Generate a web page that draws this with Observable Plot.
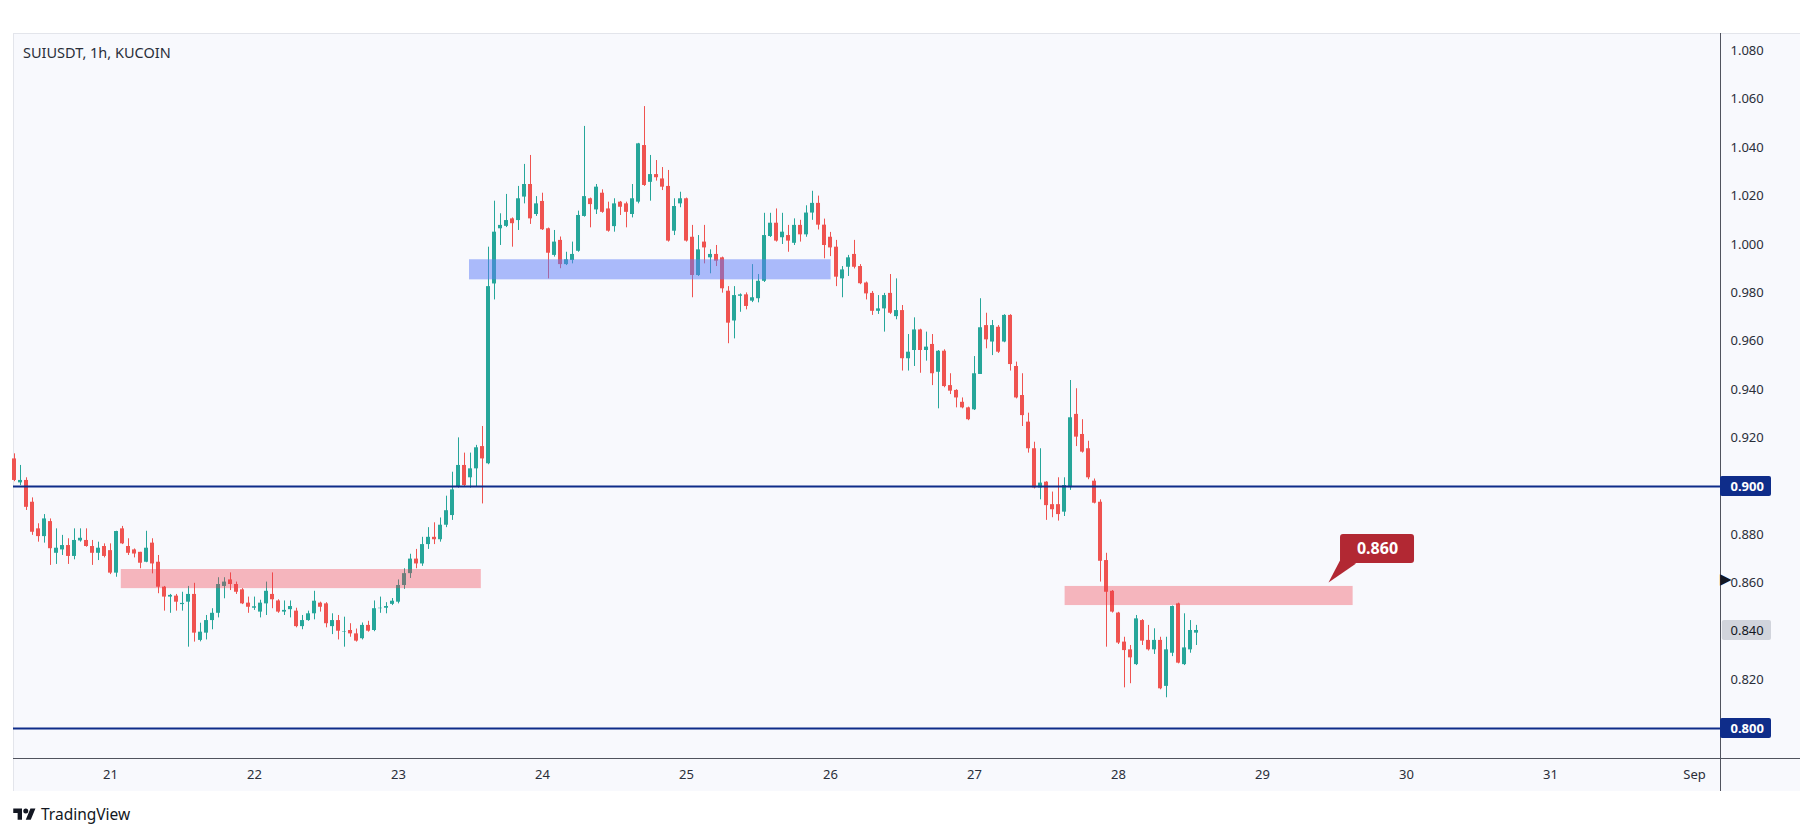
<!DOCTYPE html>
<html>
<head>
<meta charset="utf-8">
<script src="https://cdn.jsdelivr.net/npm/d3@7"></script>
<script src="https://cdn.jsdelivr.net/npm/@observablehq/plot@0.6"></script>
<style>
  html, body { margin: 0; padding: 0; background: #ffffff; }
  #wrap { position: relative; width: 1814px; height: 795px; }
  #panel { position: absolute; left: 13px; top: 33px; width: 1787px; height: 758px; background: #f8f9fd; border-top: 1px solid #e3e5eb; border-left: 1px solid #e3e5eb; box-sizing: border-box; }
  #vsep { position: absolute; left: 1720px; top: 33px; width: 1px; height: 758px; background: #50535e; }
  #hsep { position: absolute; left: 13px; top: 758px; width: 1787px; height: 1px; background: #50535e; }
  #chart { position: absolute; left: 0; top: 0; }
  #title { position: absolute; left: 23px; top: 42px; font-family: "Noto Sans", sans-serif; font-size: 14.5px; color: #2a2e39; }
  #footer { height: 41px; display: flex; align-items: center; padding-left: 13px; box-sizing: border-box; padding-bottom: 4px; font-family: "Noto Sans", sans-serif; font-size: 15.5px; color: #131722; }
  #footer svg { margin-right: 5px; }
</style>
</head>
<body>
<div id="wrap">
  <div id="panel"></div>
  <div id="vsep"></div>
  <div id="hsep"></div>
  <div id="chart"></div>
  <div id="title">SUIUSDT, 1h, KUCOIN</div>
</div>
<div id="footer"><svg width="23" height="15" viewBox="0 0 36 24"><path d="M14 22H7V11H0V4h14v18zM28 22h-8l7.5-18h8L28 22z" fill="#131722"/><circle cx="20" cy="8" r="4" fill="#131722"/></svg><span>TradingView</span></div>
<script>
// ---------- data ----------
const firstCandleUTC = Date.UTC(2024, 7, 20, 8); // Aug 20 08:00, hourly candles
const opens = [
0.9114,0.9015,0.9025,0.8935,0.8825,0.8793,0.8855,0.8724,0.8738,0.8756,
0.8711,0.8775,0.8777,0.8752,0.8724,0.8752,0.8735,0.8642,0.8825,0.8752,
0.8738,0.8728,0.8687,0.8766,0.8687,0.8584,0.8543,0.8547,0.8512,0.8522,
0.8554,0.8364,0.8394,0.8446,0.8476,0.8587,0.8614,0.8595,0.8573,0.8518,
0.8497,0.8481,0.8515,0.8554,0.8527,0.8481,0.8491,0.8485,0.8421,0.8446,
0.8474,0.8518,0.8515,0.8421,0.8446,0.8397,0.8405,0.8391,0.8371,0.8426,
0.8405,0.8495,0.8497,0.8513,0.8522,0.8591,0.8640,0.8700,0.8680,0.8760,
0.8790,0.8780,0.8840,0.8880,0.8997,0.9087,0.9036,0.9073,0.9165,0.9094,
0.9837,1.0065,1.0075,1.0106,1.0099,1.0196,1.0248,1.0124,1.0178,1.0065,
0.9955,1.0017,0.9917,0.9934,0.9972,1.0116,1.0189,1.0143,1.0212,1.0147,
1.0074,1.0175,1.0168,1.0124,1.0175,1.0409,1.0257,1.0289,1.0271,1.0240,
1.0055,1.0168,1.0189,1.0030,0.9872,1.0010,0.9945,0.9959,0.9945,0.9807,
0.9684,0.9786,0.9792,0.9766,0.9776,0.9848,1.0033,1.0088,1.0028,1.0037,
1.0005,1.0079,1.0040,1.0130,1.0170,1.0080,1.0030,0.9989,0.9858,0.9906,
0.9959,0.9909,0.9841,0.9798,0.9724,0.9734,0.9798,0.9702,0.9727,0.9528,
0.9562,0.9647,0.9562,0.9587,0.9472,0.9559,0.9417,0.9397,0.9348,0.9325,
0.9317,0.9463,0.9665,0.9597,0.9658,0.9597,0.9707,0.9496,0.9376,0.9266,
0.9156,0.8994,0.9018,0.8925,0.8925,0.8894,0.8995,0.9298,0.9215,0.9156,
0.9022,0.8935,0.8694,0.8567,0.8477,0.8357,0.8325,0.8264,0.8446,0.8364,
0.8325,0.8364,0.8174,0.8311,0.8515,0.8264,0.8325,0.8394];
const highs = [
0.9135,0.9087,0.9036,0.8953,0.8846,0.8884,0.8866,0.8825,0.8798,0.8784,
0.8825,0.8825,0.8825,0.8777,0.8770,0.8763,0.8763,0.8815,0.8835,0.8784,
0.8742,0.8728,0.8815,0.8784,0.8715,0.8587,0.8554,0.8554,0.8563,0.8587,
0.8600,0.8435,0.8467,0.8495,0.8623,0.8623,0.8643,0.8605,0.8578,0.8543,
0.8543,0.8530,0.8605,0.8643,0.8532,0.8527,0.8527,0.8497,0.8467,0.8485,
0.8567,0.8522,0.8520,0.8474,0.8467,0.8460,0.8433,0.8411,0.8436,0.8443,
0.8527,0.8543,0.8520,0.8537,0.8614,0.8660,0.8720,0.8740,0.8790,0.8830,
0.8850,0.8870,0.8960,0.9059,0.9201,0.9138,0.9138,0.9170,0.9248,0.9989,
1.0179,1.0127,1.0207,1.0110,1.0240,1.0331,1.0368,1.0198,1.0212,1.0068,
1.0058,1.0031,0.9968,1.0010,1.0138,1.0488,1.0192,1.0248,1.0226,1.0175,
1.0189,1.0178,1.0175,1.0248,1.0418,1.0570,1.0368,1.0347,1.0318,1.0306,
1.0189,1.0216,1.0192,1.0079,1.0037,1.0079,0.9978,0.9996,0.9948,0.9826,
0.9826,0.9796,0.9800,0.9917,0.9876,1.0129,1.0129,1.0147,1.0129,1.0079,
1.0106,1.0100,1.0160,1.0220,1.0200,1.0105,1.0050,1.0017,0.9909,0.9955,
1.0017,0.9917,0.9845,0.9806,0.9789,0.9798,0.9876,0.9858,0.9748,0.9628,
0.9697,0.9650,0.9638,0.9628,0.9562,0.9565,0.9466,0.9400,0.9366,0.9328,
0.9537,0.9776,0.9716,0.9686,0.9665,0.9710,0.9710,0.9514,0.9466,0.9303,
0.9183,0.9156,0.9020,0.8977,0.9036,0.9036,0.9438,0.9404,0.9276,0.9187,
0.9031,0.8945,0.8724,0.8570,0.8480,0.8377,0.8343,0.8467,0.8450,0.8426,
0.8412,0.8377,0.8377,0.8506,0.8518,0.8474,0.8446,0.8426];
const lows = [
0.9020,0.9004,0.8901,0.8798,0.8770,0.8766,0.8674,0.8678,0.8715,0.8678,
0.8697,0.8770,0.8749,0.8674,0.8694,0.8705,0.8636,0.8625,0.8760,0.8715,
0.8705,0.8660,0.8685,0.8639,0.8557,0.8485,0.8476,0.8485,0.8485,0.8336,
0.8357,0.8358,0.8366,0.8408,0.8457,0.8536,0.8570,0.8554,0.8512,0.8476,
0.8488,0.8457,0.8467,0.8495,0.8476,0.8467,0.8457,0.8416,0.8408,0.8443,
0.8449,0.8481,0.8416,0.8388,0.8366,0.8336,0.8377,0.8357,0.8366,0.8398,
0.8400,0.8476,0.8474,0.8508,0.8515,0.8575,0.8620,0.8660,0.8670,0.8740,
0.8760,0.8770,0.8830,0.8860,0.8993,0.8997,0.8993,0.8997,0.8928,0.9090,
0.9771,0.9996,1.0070,0.9989,1.0058,1.0168,1.0083,1.0116,1.0058,0.9858,
0.9948,0.9900,0.9913,0.9920,0.9968,1.0113,1.0069,1.0124,1.0129,1.0051,
1.0051,1.0120,1.0069,1.0110,1.0168,1.0240,1.0179,1.0262,1.0223,1.0010,
1.0037,1.0152,1.0010,0.9780,0.9868,0.9920,0.9879,0.9909,0.9799,0.9590,
0.9610,0.9720,0.9730,0.9760,0.9759,0.9843,1.0029,1.0010,1.0000,0.9968,
0.9996,1.0010,1.0030,1.0100,1.0060,0.9941,0.9950,0.9826,0.9780,0.9868,
0.9899,0.9834,0.9771,0.9707,0.9711,0.9638,0.9711,0.9689,0.9477,0.9477,
0.9496,0.9468,0.9518,0.9417,0.9321,0.9408,0.9380,0.9325,0.9321,0.9272,
0.9314,0.9463,0.9569,0.9541,0.9550,0.9594,0.9477,0.9362,0.9248,0.9138,
0.8990,0.8945,0.8860,0.8871,0.8857,0.8876,0.8984,0.9165,0.9138,0.9028,
0.8928,0.8605,0.8336,0.8477,0.8347,0.8168,0.8185,0.8260,0.8343,0.8320,
0.8306,0.8160,0.8127,0.8297,0.8267,0.8260,0.8311,0.8343];
const closes = [
0.9025,0.9025,0.8914,0.8811,0.8793,0.8866,0.8743,0.8745,0.8756,0.8711,
0.8777,0.8786,0.8752,0.8724,0.8745,0.8711,0.8642,0.8814,0.8763,0.8724,
0.8721,0.8683,0.8745,0.8680,0.8584,0.8543,0.8550,0.8522,0.8517,0.8554,
0.8394,0.8398,0.8446,0.8476,0.8595,0.8605,0.8595,0.8563,0.8515,0.8501,
0.8503,0.8518,0.8567,0.8532,0.8481,0.8488,0.8504,0.8421,0.8446,0.8474,
0.8526,0.8501,0.8433,0.8446,0.8402,0.8399,0.8391,0.8361,0.8426,0.8402,
0.8495,0.8497,0.8504,0.8526,0.8591,0.8640,0.8700,0.8680,0.8760,0.8790,
0.8780,0.8840,0.8900,0.8986,0.9087,0.9004,0.9073,0.9160,0.9114,0.9826,
1.0051,1.0079,1.0099,1.0086,1.0189,1.0248,1.0106,1.0168,1.0061,0.9964,
1.0010,0.9917,0.9937,0.9959,1.0120,1.0198,1.0165,1.0237,1.0133,1.0055,
1.0168,1.0154,1.0133,1.0189,1.0416,1.0244,1.0289,1.0276,1.0237,1.0014,
1.0157,1.0189,1.0014,0.9872,0.9978,0.9986,0.9959,0.9931,0.9817,0.9675,
0.9789,0.9792,0.9744,0.9780,0.9848,1.0037,1.0088,1.0014,1.0051,1.0014,
1.0079,1.0040,1.0130,1.0170,1.0080,0.9996,0.9986,0.9865,0.9895,0.9945,
0.9906,0.9838,0.9796,0.9724,0.9734,0.9789,0.9716,0.9727,0.9528,0.9555,
0.9647,0.9562,0.9576,0.9466,0.9559,0.9413,0.9394,0.9366,0.9325,0.9276,
0.9466,0.9656,0.9606,0.9665,0.9555,0.9707,0.9504,0.9366,0.9293,0.9156,
0.8994,0.9014,0.8921,0.8904,0.8884,0.9004,0.9284,0.9204,0.9142,0.9036,
0.8931,0.8691,0.8563,0.8481,0.8353,0.8322,0.8292,0.8453,0.8361,0.8325,
0.8364,0.8164,0.8325,0.8504,0.8270,0.8333,0.8405,0.8405];

// axis tick labels
const dayLabels = ["21","22","23","24","25","26","27","28","29","30","31","Sep"];
const dayDates = ["2024-08-21","2024-08-22","2024-08-23","2024-08-24","2024-08-25","2024-08-26","2024-08-27","2024-08-28","2024-08-29","2024-08-30","2024-08-31","2024-09-01"];
const priceTicks = [1.080,1.060,1.040,1.020,1.000,0.980,0.960,0.940,0.920,0.880,0.860,0.820];
// horizontal levels and current price
const levels = [0.900, 0.800];
const lastPrice = 0.8405;
const lastPriceLabel = "0.840";
// zones (start, end in UTC, price lo/hi)
const zoneStarts = ["2024-08-21T01:48Z","2024-08-23T11:50Z","2024-08-27T15:06Z"];
const zoneEnds   = ["2024-08-23T13:48Z","2024-08-26T00:06Z","2024-08-29T15:06Z"];
const zoneLows   = [0.8578, 0.9854, 0.8508];
const zoneHighs  = [0.8657, 0.9937, 0.8587];
const zoneKinds  = ["supply","demand","supply"];
// callout
const calloutText = "0.860";
const calloutTip = {t: "2024-08-29T11:00Z", p: 0.8603};
const calloutBox = {t1: "2024-08-29T13:00Z", t2: "2024-08-30T01:20Z", p1: 0.8682, p2: 0.8802};

// ---------- build ----------
const H = 3600e3;
const candles = opens.map((o, i) => ({
  date: new Date(firstCandleUTC + i * H),
  open: o, high: highs[i], low: lows[i], close: closes[i]
}));
const up = "#26a69a", down = "#ef5350";
const col = d => d.close >= d.open ? up : down;

const xStart = new Date(firstCandleUTC - 10 * 60e3);
const xEnd = new Date(firstCandleUTC + 284.33 * H);
const yLo = 0.7876, yHi = 1.0872;
const after = h => new Date(+xEnd + h * H);

const zones = zoneStarts.map((s, i) => ({
  t1: new Date(s), t2: new Date(zoneEnds[i]), lo: zoneLows[i], hi: zoneHighs[i], kind: zoneKinds[i]
}));
const days = dayDates.map((d, i) => ({date: new Date(d + "T00:00Z"), label: dayLabels[i]}));

const tipT = new Date(calloutTip.t);
const b1 = new Date(calloutBox.t1), b2 = new Date(calloutBox.t2);
const tail = [
  {t: tipT, p: calloutTip.p},
  {t: b1, p: calloutBox.p1 + 0.0016},
  {t: new Date(+b1 + 2.6 * H), p: calloutBox.p1}
];
const navy = "#0f2d8a";
const boxH = 0.0041;

const chart = Plot.plot({
  width: 1814,
  height: 795,
  marginLeft: 13,
  marginRight: 94,
  marginTop: 33,
  marginBottom: 37,
  x: {type: "utc", domain: [xStart, xEnd], axis: null},
  y: {domain: [yLo, yHi], axis: null},
  style: {background: "transparent", fontFamily: "Noto Sans, sans-serif", fontSize: "13px", overflow: "visible"},
  marks: [
    // wicks and bodies
    Plot.ruleX(candles, {x: "date", y1: "low", y2: "high", stroke: col, strokeWidth: 1}),
    Plot.rect(candles, {
      x1: d => new Date(+d.date - 20 * 60e3), x2: d => new Date(+d.date + 20 * 60e3),
      y1: "open", y2: "close", fill: col
    }),
    // zones drawn on top, translucent
    Plot.rect(zones, {x1: "t1", x2: "t2", y1: "lo", y2: "hi",
      fill: d => d.kind === "demand" ? "#5b7cf7" : "#f23645",
      fillOpacity: d => d.kind === "demand" ? 0.5 : 0.35}),
    // horizontal levels
    Plot.ruleY(levels, {y: d => d, stroke: navy, strokeWidth: 2}),
    // callout
    Plot.line(tail, {x: "t", y: "p", fill: "#b22833", stroke: "none"}),
    Plot.rect([calloutBox], {x1: () => b1, x2: () => b2, y1: "p1", y2: "p2", fill: "#b22833", rx: 3}),
    Plot.text([calloutText], {x: () => new Date((+b1 + +b2) / 2), y: () => (calloutBox.p1 + calloutBox.p2) / 2,
      text: d => d, fill: "white", fontWeight: "bold", fontSize: 16}),
    // price axis labels (right)
    Plot.text(priceTicks, {x: () => xEnd, y: d => d, text: d => d.toFixed(3), textAnchor: "start", dx: 10, fill: "#2a2e39"}),
    // date axis labels (bottom)
    Plot.text(days, {x: "date", y: () => yLo, text: "label", dy: 16, fill: "#2a2e39"}),
    // level boxes on price axis
    Plot.rect(levels, {x1: () => xEnd, x2: () => after(8.5), y1: d => d - boxH, y2: d => d + boxH, fill: navy, rx: 2}),
    Plot.text(levels, {x: () => xEnd, y: d => d, text: d => d.toFixed(3), textAnchor: "start", dx: 10, fill: "white", fontWeight: "bold"}),
    // last price box
    Plot.rect([lastPrice], {x1: () => after(0.3), x2: () => after(8.5), y1: d => d - boxH, y2: d => d + boxH, fill: "#d1d4dc", rx: 2}),
    Plot.text([lastPrice], {x: () => xEnd, y: d => d, text: () => lastPriceLabel, textAnchor: "start", dx: 10, fill: "#131722"}),
    // black marker on axis
    Plot.text([0.8618], {x: () => xEnd, y: d => d, text: () => "▶", textAnchor: "start", dx: -1, fontSize: 15, fill: "#131722"})
  ]
});
document.getElementById("chart").appendChild(chart);
</script>
</body>
</html>
